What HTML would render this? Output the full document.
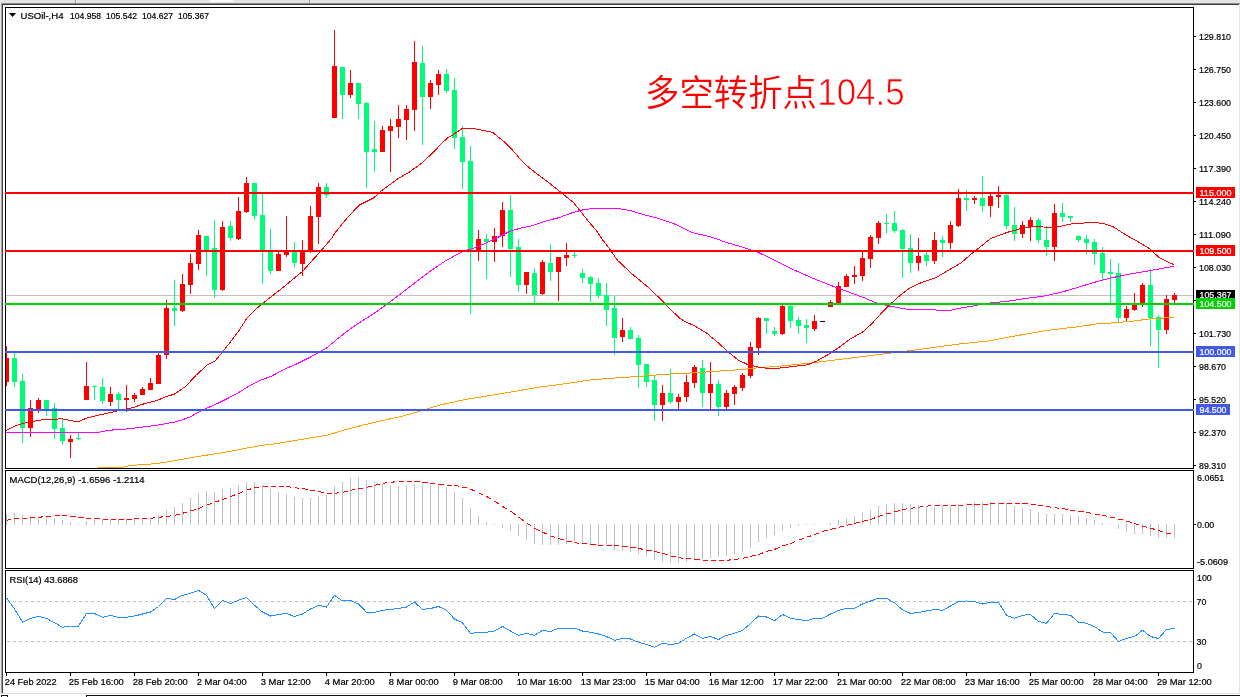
<!DOCTYPE html>
<html lang="zh"><head><meta charset="utf-8"><title>USOil H4</title>
<style>html,body{margin:0;padding:0;background:#fff;overflow:hidden}svg{display:block}</style></head>
<body><svg width="1240" height="697" viewBox="0 0 1240 697" font-family="Liberation Sans, Noto Sans CJK SC, sans-serif" font-size="9.9px">
<rect width="1240" height="697" fill="#fff"/>
<g shape-rendering="crispEdges">
<rect x="0" y="0" width="1240" height="3" fill="#e3e3e3"/>
<rect x="210" y="0" width="23" height="2" fill="#fafafa"/>
<rect x="75" y="0" width="1" height="3" fill="#9a9a9a"/><rect x="309" y="0" width="1" height="3" fill="#9a9a9a"/>
<rect x="0" y="3" width="1240" height="1" fill="#8a8a8a"/>
<rect x="2" y="4" width="1237" height="1" fill="#3c3c3c"/>
<rect x="0" y="3" width="1" height="691" fill="#e8e8e8"/><rect x="1" y="3" width="1" height="690" fill="#a0a0a0"/>
<rect x="2" y="4" width="1" height="689" fill="#444"/>
<rect x="1239" y="4" width="1" height="693" fill="#e3e3e3"/>
<rect x="1" y="693" width="1239" height="1" fill="#dedede"/>
<rect x="0" y="694" width="1240" height="3" fill="#fff"/>
<rect x="86" y="695" width="1154" height="1" fill="#111"/><rect x="86" y="696" width="1" height="1" fill="#111"/>
<rect x="1" y="695" width="7" height="1" fill="#111"/><rect x="1" y="696" width="1" height="1" fill="#111"/><rect x="7" y="696" width="1" height="1" fill="#111"/>
</g>
<defs><clipPath id="cm"><rect x="6" y="8" width="1187" height="460"/></clipPath></defs>
<g clip-path="url(#cm)" shape-rendering="crispEdges">
<rect x="6" y="295" width="1187" height="1" fill="#c0c0c0"/>
<rect x="6" y="346" width="1" height="40" fill="#ff0000"/>
<rect x="4" y="358" width="5" height="24" fill="#ff0000"/>
<rect x="14" y="353" width="1" height="34" fill="#00fb76"/>
<rect x="12" y="358" width="5" height="24" fill="#00fb76"/>
<rect x="22" y="374" width="1" height="69" fill="#00fb76"/>
<rect x="20" y="381" width="5" height="47" fill="#00fb76"/>
<rect x="30" y="400" width="1" height="37" fill="#ff0000"/>
<rect x="28" y="408" width="5" height="20" fill="#ff0000"/>
<rect x="38" y="398" width="1" height="15" fill="#ff0000"/>
<rect x="36" y="400" width="5" height="9" fill="#ff0000"/>
<rect x="46" y="400" width="1" height="16" fill="#00fb76"/>
<rect x="44" y="400" width="5" height="9" fill="#00fb76"/>
<rect x="54" y="403" width="1" height="36" fill="#00fb76"/>
<rect x="52" y="408" width="5" height="21" fill="#00fb76"/>
<rect x="62" y="418" width="1" height="27" fill="#00fb76"/>
<rect x="60" y="428" width="5" height="13" fill="#00fb76"/>
<rect x="70" y="435" width="1" height="23" fill="#ff0000"/>
<rect x="68" y="439" width="5" height="3" fill="#ff0000"/>
<rect x="78" y="432" width="1" height="8" fill="#00fb76"/>
<rect x="76" y="438" width="5" height="1" fill="#00fb76"/>
<rect x="86" y="362" width="1" height="38" fill="#ff0000"/>
<rect x="84" y="386" width="5" height="14" fill="#ff0000"/>
<rect x="94" y="385" width="1" height="15" fill="#00fb76"/>
<rect x="92" y="386" width="5" height="1" fill="#00fb76"/>
<rect x="102" y="378" width="1" height="26" fill="#00fb76"/>
<rect x="100" y="387" width="5" height="14" fill="#00fb76"/>
<rect x="110" y="387" width="1" height="19" fill="#ff0000"/>
<rect x="108" y="394" width="5" height="8" fill="#ff0000"/>
<rect x="118" y="392" width="1" height="17" fill="#00fb76"/>
<rect x="116" y="394" width="5" height="6" fill="#00fb76"/>
<rect x="126" y="385" width="1" height="27" fill="#ff0000"/>
<rect x="124" y="398" width="5" height="2" fill="#ff0000"/>
<rect x="134" y="393" width="1" height="9" fill="#ff0000"/>
<rect x="132" y="395" width="5" height="4" fill="#ff0000"/>
<rect x="142" y="387" width="1" height="8" fill="#ff0000"/>
<rect x="140" y="389" width="5" height="6" fill="#ff0000"/>
<rect x="150" y="378" width="1" height="12" fill="#ff0000"/>
<rect x="148" y="383" width="5" height="7" fill="#ff0000"/>
<rect x="158" y="352" width="1" height="32" fill="#ff0000"/>
<rect x="156" y="355" width="5" height="29" fill="#ff0000"/>
<rect x="166" y="300" width="1" height="59" fill="#ff0000"/>
<rect x="164" y="308" width="5" height="47" fill="#ff0000"/>
<rect x="174" y="280" width="1" height="46" fill="#00fb76"/>
<rect x="172" y="308" width="5" height="3" fill="#00fb76"/>
<rect x="182" y="274" width="1" height="38" fill="#ff0000"/>
<rect x="180" y="284" width="5" height="27" fill="#ff0000"/>
<rect x="190" y="254" width="1" height="40" fill="#ff0000"/>
<rect x="188" y="263" width="5" height="22" fill="#ff0000"/>
<rect x="198" y="230" width="1" height="40" fill="#ff0000"/>
<rect x="196" y="235" width="5" height="29" fill="#ff0000"/>
<rect x="206" y="236" width="1" height="40" fill="#00fb76"/>
<rect x="204" y="236" width="5" height="14" fill="#00fb76"/>
<rect x="214" y="220" width="1" height="78" fill="#00fb76"/>
<rect x="212" y="248" width="5" height="42" fill="#00fb76"/>
<rect x="222" y="221" width="1" height="70" fill="#ff0000"/>
<rect x="220" y="227" width="5" height="63" fill="#ff0000"/>
<rect x="230" y="221" width="1" height="20" fill="#00fb76"/>
<rect x="228" y="226" width="5" height="12" fill="#00fb76"/>
<rect x="238" y="197" width="1" height="43" fill="#ff0000"/>
<rect x="236" y="211" width="5" height="28" fill="#ff0000"/>
<rect x="246" y="177" width="1" height="36" fill="#ff0000"/>
<rect x="244" y="183" width="5" height="29" fill="#ff0000"/>
<rect x="254" y="183" width="1" height="37" fill="#00fb76"/>
<rect x="252" y="183" width="5" height="33" fill="#00fb76"/>
<rect x="262" y="194" width="1" height="90" fill="#00fb76"/>
<rect x="260" y="215" width="5" height="36" fill="#00fb76"/>
<rect x="270" y="229" width="1" height="45" fill="#00fb76"/>
<rect x="268" y="252" width="5" height="19" fill="#00fb76"/>
<rect x="278" y="252" width="1" height="19" fill="#ff0000"/>
<rect x="276" y="254" width="5" height="17" fill="#ff0000"/>
<rect x="286" y="216" width="1" height="41" fill="#ff0000"/>
<rect x="284" y="252" width="5" height="3" fill="#ff0000"/>
<rect x="294" y="242" width="1" height="26" fill="#00fb76"/>
<rect x="292" y="252" width="5" height="11" fill="#00fb76"/>
<rect x="302" y="240" width="1" height="36" fill="#ff0000"/>
<rect x="300" y="252" width="5" height="12" fill="#ff0000"/>
<rect x="310" y="206" width="1" height="47" fill="#ff0000"/>
<rect x="308" y="216" width="5" height="36" fill="#ff0000"/>
<rect x="318" y="183" width="1" height="61" fill="#ff0000"/>
<rect x="316" y="187" width="5" height="30" fill="#ff0000"/>
<rect x="326" y="183" width="1" height="15" fill="#00fb76"/>
<rect x="324" y="187" width="5" height="8" fill="#00fb76"/>
<rect x="334" y="30" width="1" height="88" fill="#ff0000"/>
<rect x="332" y="66" width="5" height="52" fill="#ff0000"/>
<rect x="342" y="67" width="1" height="52" fill="#00fb76"/>
<rect x="340" y="67" width="5" height="28" fill="#00fb76"/>
<rect x="350" y="70" width="1" height="28" fill="#ff0000"/>
<rect x="348" y="83" width="5" height="12" fill="#ff0000"/>
<rect x="358" y="83" width="1" height="36" fill="#00fb76"/>
<rect x="356" y="83" width="5" height="21" fill="#00fb76"/>
<rect x="366" y="102" width="1" height="86" fill="#00fb76"/>
<rect x="364" y="103" width="5" height="49" fill="#00fb76"/>
<rect x="374" y="121" width="1" height="51" fill="#00fb76"/>
<rect x="372" y="149" width="5" height="3" fill="#00fb76"/>
<rect x="382" y="126" width="1" height="26" fill="#ff0000"/>
<rect x="380" y="130" width="5" height="22" fill="#ff0000"/>
<rect x="390" y="119" width="1" height="53" fill="#ff0000"/>
<rect x="388" y="126" width="5" height="5" fill="#ff0000"/>
<rect x="398" y="105" width="1" height="33" fill="#ff0000"/>
<rect x="396" y="119" width="5" height="8" fill="#ff0000"/>
<rect x="406" y="105" width="1" height="35" fill="#ff0000"/>
<rect x="404" y="109" width="5" height="11" fill="#ff0000"/>
<rect x="414" y="41" width="1" height="90" fill="#ff0000"/>
<rect x="412" y="62" width="5" height="48" fill="#ff0000"/>
<rect x="422" y="46" width="1" height="99" fill="#00fb76"/>
<rect x="420" y="63" width="5" height="34" fill="#00fb76"/>
<rect x="430" y="80" width="1" height="29" fill="#ff0000"/>
<rect x="428" y="83" width="5" height="14" fill="#ff0000"/>
<rect x="438" y="70" width="1" height="25" fill="#ff0000"/>
<rect x="436" y="74" width="5" height="11" fill="#ff0000"/>
<rect x="446" y="69" width="1" height="24" fill="#00fb76"/>
<rect x="444" y="74" width="5" height="17" fill="#00fb76"/>
<rect x="454" y="78" width="1" height="71" fill="#00fb76"/>
<rect x="452" y="90" width="5" height="48" fill="#00fb76"/>
<rect x="462" y="126" width="1" height="63" fill="#00fb76"/>
<rect x="460" y="137" width="5" height="25" fill="#00fb76"/>
<rect x="470" y="146" width="1" height="168" fill="#00fb76"/>
<rect x="468" y="161" width="5" height="89" fill="#00fb76"/>
<rect x="478" y="230" width="1" height="31" fill="#ff0000"/>
<rect x="476" y="239" width="5" height="12" fill="#ff0000"/>
<rect x="486" y="234" width="1" height="45" fill="#00fb76"/>
<rect x="484" y="239" width="5" height="3" fill="#00fb76"/>
<rect x="494" y="228" width="1" height="34" fill="#ff0000"/>
<rect x="492" y="236" width="5" height="6" fill="#ff0000"/>
<rect x="502" y="202" width="1" height="45" fill="#ff0000"/>
<rect x="500" y="210" width="5" height="26" fill="#ff0000"/>
<rect x="510" y="195" width="1" height="82" fill="#00fb76"/>
<rect x="508" y="210" width="5" height="39" fill="#00fb76"/>
<rect x="518" y="239" width="1" height="53" fill="#00fb76"/>
<rect x="516" y="247" width="5" height="38" fill="#00fb76"/>
<rect x="526" y="272" width="1" height="22" fill="#ff0000"/>
<rect x="524" y="272" width="5" height="13" fill="#ff0000"/>
<rect x="534" y="268" width="1" height="35" fill="#00fb76"/>
<rect x="532" y="273" width="5" height="22" fill="#00fb76"/>
<rect x="542" y="260" width="1" height="35" fill="#ff0000"/>
<rect x="540" y="262" width="5" height="32" fill="#ff0000"/>
<rect x="550" y="244" width="1" height="37" fill="#00fb76"/>
<rect x="548" y="263" width="5" height="9" fill="#00fb76"/>
<rect x="558" y="257" width="1" height="44" fill="#ff0000"/>
<rect x="556" y="257" width="5" height="15" fill="#ff0000"/>
<rect x="566" y="243" width="1" height="23" fill="#ff0000"/>
<rect x="564" y="255" width="5" height="3" fill="#ff0000"/>
<rect x="574" y="252" width="1" height="6" fill="#00fb76"/>
<rect x="572" y="255" width="5" height="1" fill="#00fb76"/>
<rect x="582" y="269" width="1" height="14" fill="#00fb76"/>
<rect x="580" y="273" width="5" height="5" fill="#00fb76"/>
<rect x="590" y="276" width="1" height="26" fill="#00fb76"/>
<rect x="588" y="277" width="5" height="7" fill="#00fb76"/>
<rect x="598" y="278" width="1" height="20" fill="#00fb76"/>
<rect x="596" y="283" width="5" height="13" fill="#00fb76"/>
<rect x="606" y="283" width="1" height="43" fill="#00fb76"/>
<rect x="604" y="295" width="5" height="15" fill="#00fb76"/>
<rect x="614" y="296" width="1" height="59" fill="#00fb76"/>
<rect x="612" y="308" width="5" height="30" fill="#00fb76"/>
<rect x="622" y="318" width="1" height="24" fill="#ff0000"/>
<rect x="620" y="330" width="5" height="7" fill="#ff0000"/>
<rect x="630" y="327" width="1" height="12" fill="#00fb76"/>
<rect x="628" y="330" width="5" height="9" fill="#00fb76"/>
<rect x="638" y="335" width="1" height="53" fill="#00fb76"/>
<rect x="636" y="338" width="5" height="27" fill="#00fb76"/>
<rect x="646" y="364" width="1" height="23" fill="#00fb76"/>
<rect x="644" y="364" width="5" height="18" fill="#00fb76"/>
<rect x="654" y="376" width="1" height="45" fill="#00fb76"/>
<rect x="652" y="380" width="5" height="25" fill="#00fb76"/>
<rect x="662" y="385" width="1" height="36" fill="#ff0000"/>
<rect x="660" y="393" width="5" height="12" fill="#ff0000"/>
<rect x="670" y="369" width="1" height="35" fill="#00fb76"/>
<rect x="668" y="393" width="5" height="9" fill="#00fb76"/>
<rect x="678" y="394" width="1" height="15" fill="#ff0000"/>
<rect x="676" y="397" width="5" height="5" fill="#ff0000"/>
<rect x="686" y="375" width="1" height="27" fill="#ff0000"/>
<rect x="684" y="382" width="5" height="15" fill="#ff0000"/>
<rect x="694" y="365" width="1" height="23" fill="#ff0000"/>
<rect x="692" y="367" width="5" height="16" fill="#ff0000"/>
<rect x="702" y="360" width="1" height="47" fill="#00fb76"/>
<rect x="700" y="368" width="5" height="25" fill="#00fb76"/>
<rect x="710" y="362" width="1" height="47" fill="#ff0000"/>
<rect x="708" y="384" width="5" height="9" fill="#ff0000"/>
<rect x="718" y="380" width="1" height="36" fill="#00fb76"/>
<rect x="716" y="384" width="5" height="23" fill="#00fb76"/>
<rect x="726" y="390" width="1" height="19" fill="#ff0000"/>
<rect x="724" y="393" width="5" height="14" fill="#ff0000"/>
<rect x="734" y="385" width="1" height="20" fill="#ff0000"/>
<rect x="732" y="387" width="5" height="7" fill="#ff0000"/>
<rect x="742" y="373" width="1" height="18" fill="#ff0000"/>
<rect x="740" y="375" width="5" height="13" fill="#ff0000"/>
<rect x="750" y="342" width="1" height="36" fill="#ff0000"/>
<rect x="748" y="347" width="5" height="29" fill="#ff0000"/>
<rect x="758" y="317" width="1" height="38" fill="#ff0000"/>
<rect x="756" y="318" width="5" height="30" fill="#ff0000"/>
<rect x="766" y="318" width="1" height="16" fill="#00fb76"/>
<rect x="764" y="318" width="5" height="3" fill="#00fb76"/>
<rect x="774" y="327" width="1" height="9" fill="#00fb76"/>
<rect x="772" y="331" width="5" height="3" fill="#00fb76"/>
<rect x="782" y="304" width="1" height="31" fill="#ff0000"/>
<rect x="780" y="306" width="5" height="28" fill="#ff0000"/>
<rect x="790" y="304" width="1" height="24" fill="#00fb76"/>
<rect x="788" y="306" width="5" height="15" fill="#00fb76"/>
<rect x="798" y="317" width="1" height="17" fill="#00fb76"/>
<rect x="796" y="320" width="5" height="6" fill="#00fb76"/>
<rect x="806" y="319" width="1" height="24" fill="#00fb76"/>
<rect x="804" y="325" width="5" height="3" fill="#00fb76"/>
<rect x="814" y="315" width="1" height="16" fill="#ff0000"/>
<rect x="812" y="321" width="5" height="8" fill="#ff0000"/>
<rect x="822" y="321" width="1" height="1" fill="#000"/>
<rect x="820" y="321" width="5" height="1" fill="#000"/>
<rect x="830" y="300" width="1" height="7" fill="#ff0000"/>
<rect x="828" y="302" width="5" height="5" fill="#ff0000"/>
<rect x="838" y="282" width="1" height="21" fill="#ff0000"/>
<rect x="836" y="286" width="5" height="17" fill="#ff0000"/>
<rect x="846" y="274" width="1" height="13" fill="#ff0000"/>
<rect x="844" y="276" width="5" height="11" fill="#ff0000"/>
<rect x="854" y="266" width="1" height="18" fill="#ff0000"/>
<rect x="852" y="275" width="5" height="2" fill="#ff0000"/>
<rect x="862" y="252" width="1" height="29" fill="#ff0000"/>
<rect x="860" y="258" width="5" height="18" fill="#ff0000"/>
<rect x="870" y="235" width="1" height="33" fill="#ff0000"/>
<rect x="868" y="237" width="5" height="22" fill="#ff0000"/>
<rect x="878" y="221" width="1" height="23" fill="#ff0000"/>
<rect x="876" y="223" width="5" height="15" fill="#ff0000"/>
<rect x="886" y="214" width="1" height="19" fill="#00fb76"/>
<rect x="884" y="223" width="5" height="1" fill="#00fb76"/>
<rect x="894" y="211" width="1" height="22" fill="#00fb76"/>
<rect x="892" y="223" width="5" height="8" fill="#00fb76"/>
<rect x="902" y="229" width="1" height="49" fill="#00fb76"/>
<rect x="900" y="230" width="5" height="19" fill="#00fb76"/>
<rect x="910" y="234" width="1" height="39" fill="#00fb76"/>
<rect x="908" y="248" width="5" height="15" fill="#00fb76"/>
<rect x="918" y="238" width="1" height="33" fill="#ff0000"/>
<rect x="916" y="256" width="5" height="7" fill="#ff0000"/>
<rect x="926" y="252" width="1" height="14" fill="#00fb76"/>
<rect x="924" y="255" width="5" height="6" fill="#00fb76"/>
<rect x="934" y="232" width="1" height="32" fill="#ff0000"/>
<rect x="932" y="240" width="5" height="21" fill="#ff0000"/>
<rect x="942" y="236" width="1" height="21" fill="#00fb76"/>
<rect x="940" y="240" width="5" height="3" fill="#00fb76"/>
<rect x="950" y="221" width="1" height="28" fill="#ff0000"/>
<rect x="948" y="225" width="5" height="18" fill="#ff0000"/>
<rect x="958" y="189" width="1" height="38" fill="#ff0000"/>
<rect x="956" y="198" width="5" height="28" fill="#ff0000"/>
<rect x="966" y="190" width="1" height="21" fill="#00fb76"/>
<rect x="964" y="198" width="5" height="2" fill="#00fb76"/>
<rect x="974" y="196" width="1" height="8" fill="#ff0000"/>
<rect x="972" y="198" width="5" height="2" fill="#ff0000"/>
<rect x="982" y="176" width="1" height="36" fill="#00fb76"/>
<rect x="980" y="198" width="5" height="8" fill="#00fb76"/>
<rect x="990" y="194" width="1" height="23" fill="#ff0000"/>
<rect x="988" y="196" width="5" height="10" fill="#ff0000"/>
<rect x="998" y="186" width="1" height="22" fill="#ff0000"/>
<rect x="996" y="195" width="5" height="2" fill="#ff0000"/>
<rect x="1006" y="194" width="1" height="35" fill="#00fb76"/>
<rect x="1004" y="195" width="5" height="31" fill="#00fb76"/>
<rect x="1014" y="207" width="1" height="34" fill="#00fb76"/>
<rect x="1012" y="225" width="5" height="9" fill="#00fb76"/>
<rect x="1022" y="221" width="1" height="17" fill="#ff0000"/>
<rect x="1020" y="225" width="5" height="9" fill="#ff0000"/>
<rect x="1030" y="217" width="1" height="24" fill="#ff0000"/>
<rect x="1028" y="220" width="5" height="7" fill="#ff0000"/>
<rect x="1038" y="218" width="1" height="25" fill="#00fb76"/>
<rect x="1036" y="220" width="5" height="20" fill="#00fb76"/>
<rect x="1046" y="226" width="1" height="30" fill="#00fb76"/>
<rect x="1044" y="240" width="5" height="7" fill="#00fb76"/>
<rect x="1054" y="204" width="1" height="57" fill="#ff0000"/>
<rect x="1052" y="213" width="5" height="34" fill="#ff0000"/>
<rect x="1062" y="203" width="1" height="19" fill="#00fb76"/>
<rect x="1060" y="213" width="5" height="4" fill="#00fb76"/>
<rect x="1070" y="216" width="1" height="6" fill="#00fb76"/>
<rect x="1068" y="216" width="5" height="2" fill="#00fb76"/>
<rect x="1078" y="235" width="1" height="7" fill="#00fb76"/>
<rect x="1076" y="236" width="5" height="4" fill="#00fb76"/>
<rect x="1086" y="235" width="1" height="19" fill="#00fb76"/>
<rect x="1084" y="239" width="5" height="4" fill="#00fb76"/>
<rect x="1094" y="239" width="1" height="26" fill="#00fb76"/>
<rect x="1092" y="242" width="5" height="12" fill="#00fb76"/>
<rect x="1102" y="247" width="1" height="33" fill="#00fb76"/>
<rect x="1100" y="253" width="5" height="20" fill="#00fb76"/>
<rect x="1110" y="259" width="1" height="45" fill="#00fb76"/>
<rect x="1108" y="272" width="5" height="2" fill="#00fb76"/>
<rect x="1118" y="263" width="1" height="59" fill="#00fb76"/>
<rect x="1116" y="273" width="5" height="45" fill="#00fb76"/>
<rect x="1126" y="306" width="1" height="16" fill="#ff0000"/>
<rect x="1124" y="309" width="5" height="9" fill="#ff0000"/>
<rect x="1134" y="293" width="1" height="18" fill="#ff0000"/>
<rect x="1132" y="305" width="5" height="5" fill="#ff0000"/>
<rect x="1142" y="283" width="1" height="24" fill="#ff0000"/>
<rect x="1140" y="285" width="5" height="18" fill="#ff0000"/>
<rect x="1150" y="269" width="1" height="77" fill="#00fb76"/>
<rect x="1148" y="285" width="5" height="33" fill="#00fb76"/>
<rect x="1158" y="315" width="1" height="53" fill="#00fb76"/>
<rect x="1156" y="317" width="5" height="13" fill="#00fb76"/>
<rect x="1166" y="295" width="1" height="39" fill="#ff0000"/>
<rect x="1164" y="299" width="5" height="31" fill="#ff0000"/>
<rect x="1174" y="293" width="1" height="10" fill="#ff0000"/>
<rect x="1172" y="295" width="5" height="5" fill="#ff0000"/>
</g>
<g clip-path="url(#cm)" fill="none" stroke-width="1" stroke-linejoin="round" shape-rendering="crispEdges">
<polyline points="98.0,467.5 122.0,467.5 130.0,465.5 154.0,463.8 170.0,461.6 186.0,458.6 202.0,455.8 218.0,453.5 234.5,450.6 240.0,449.3 259.4,445.8 278.7,443.2 298.0,440.0 317.4,436.8 327.7,435.1 343.2,430.3 362.6,425.2 381.9,420.6 400.0,416.8 415.0,412.5 440.0,405.0 465.0,399.5 490.0,395.5 515.0,391.3 540.0,387.0 565.0,383.8 590.0,380.0 615.0,378.0 640.0,376.3 665.0,374.3 700.0,372.5 711.2,371.6 737.9,369.8 755.7,368.0 775.6,366.5 811.2,363.0 846.8,358.5 882.3,354.1 917.9,349.6 960.0,343.9 990.0,340.8 1007.8,337.3 1025.6,334.1 1043.4,331.0 1061.2,328.7 1079.0,326.6 1096.8,323.9 1114.6,322.8 1132.3,321.2 1150.1,318.9 1174.2,317.3" stroke="#ffa000"/>
<polyline points="6.0,432.0 66.0,432.0 70.0,432.5 97.0,432.5 110.0,430.2 126.0,429.0 142.0,427.2 158.0,425.0 166.0,423.6 174.0,422.2 182.0,420.0 190.0,416.9 198.0,412.6 206.0,408.5 214.0,405.0 220.0,402.3 236.3,394.0 249.6,385.7 260.3,380.3 271.0,376.4 285.2,368.8 295.9,364.3 310.1,357.2 326.2,348.3 336.8,339.4 349.3,329.6 358.3,323.3 373.4,313.9 385.8,305.0 400.1,294.3 416.1,281.9 430.3,271.2 444.6,261.4 462.3,251.6 476.6,247.2 494.4,239.1 510.4,231.1 520.0,228.3 532.5,225.6 544.9,221.2 559.1,217.6 573.4,212.3 584.1,209.6 596.5,208.2 616.1,208.2 630.3,210.5 644.6,214.9 658.8,218.5 676.6,224.7 692.6,232.7 712.2,237.2 726.4,242.5 740.0,246.4 756.9,251.8 775.6,260.7 793.4,269.6 811.2,277.6 829.0,284.7 846.8,291.3 864.6,298.0 875.2,302.5 889.5,306.0 907.3,309.3 935.7,310.0 951.7,310.0 960.0,308.2 990.0,303.0 1007.8,301.2 1025.6,298.5 1043.4,296.2 1061.2,292.3 1079.0,287.0 1096.8,281.6 1114.6,277.2 1132.3,273.6 1150.1,270.6 1174.2,266.2" stroke="#ff00ff"/>
<polyline points="6.0,430.7 14.4,426.3 22.0,423.6 30.0,422.2 38.0,420.4 46.0,419.2 54.0,419.2 62.0,418.8 70.0,420.4 78.0,421.9 86.0,418.3 94.0,416.2 102.0,414.4 110.0,412.6 118.0,410.8 126.0,409.0 134.0,407.3 142.0,404.4 150.0,402.3 158.0,400.1 166.0,396.6 174.0,394.3 185.6,386.5 196.3,375.0 207.0,365.2 215.0,361.1 221.2,353.6 228.3,344.7 239.0,330.5 247.0,318.0 256.8,308.3 265.7,301.1 274.6,294.0 285.2,285.7 302.7,271.2 320.8,251.0 331.5,238.5 335.1,232.8 346.7,218.5 359.1,205.2 373.4,198.1 382.3,190.1 398.3,178.5 409.0,172.3 421.4,163.4 433.9,151.8 441.0,144.0 448.1,137.6 451.7,135.7 462.3,128.4 471.2,128.0 480.1,129.8 492.6,132.4 503.3,141.1 506.0,143.3 515.7,153.6 520.0,158.9 528.2,166.9 536.0,173.1 546.7,181.1 559.1,190.9 573.4,202.5 580.5,211.4 591.2,224.7 596.1,230.0 601.9,239.0 606.8,245.1 610.7,250.5 617.4,260.2 631.7,273.6 647.7,286.9 663.7,302.1 667.3,306.5 679.7,318.1 683.7,320.9 693.5,325.3 705.9,332.5 716.6,341.4 727.3,351.1 737.9,360.0 746.8,364.1 755.7,366.6 764.6,368.0 772.0,368.9 793.4,366.5 807.6,364.8 816.5,361.2 829.0,354.1 839.6,347.0 850.3,339.0 862.8,331.9 871.7,323.8 882.3,312.3 891.2,303.4 900.1,295.4 910.8,287.4 919.6,283.3 935.7,277.8 948.1,270.4 960.6,263.3 971.2,254.0 980.1,246.9 990.8,238.5 998.9,235.4 1007.8,232.2 1022.0,228.3 1034.5,226.5 1050.5,227.4 1061.2,226.1 1073.6,223.5 1086.1,222.9 1095.0,222.4 1103.9,223.8 1112.8,226.5 1125.2,234.5 1137.7,241.6 1148.4,247.8 1159.0,257.3 1167.9,262.1 1174.2,264.7" stroke="#ff0000"/>
</g>
<g shape-rendering="crispEdges">
<rect x="5" y="7" width="1189" height="1" fill="#000"/>
<rect x="5" y="7" width="1" height="666" fill="#000"/>
<rect x="1193" y="7" width="1" height="666" fill="#000"/>
<rect x="5" y="468" width="1189" height="1" fill="#000"/>
<rect x="5" y="470" width="1189" height="1" fill="#000"/>
<rect x="5" y="568" width="1189" height="1" fill="#000"/>
<rect x="5" y="570" width="1189" height="1" fill="#000"/>
<rect x="5" y="672" width="1189" height="1" fill="#000"/>
<rect x="5" y="469" width="1189" height="1" fill="#fff"/><rect x="5" y="569" width="1189" height="1" fill="#fff"/>
<rect x="5" y="192" width="1189" height="2" fill="#ff0000"/>
<rect x="5" y="250" width="1189" height="2" fill="#ff0000"/>
<rect x="5" y="303" width="1189" height="2" fill="#00d000"/>
<rect x="5" y="351" width="1189" height="2" fill="#4159e6"/>
<rect x="5" y="409" width="1189" height="2" fill="#4159e6"/>
<rect x="1194" y="36" width="2" height="1" fill="#000"/>
<rect x="1194" y="69" width="2" height="1" fill="#000"/>
<rect x="1194" y="102" width="2" height="1" fill="#000"/>
<rect x="1194" y="135" width="2" height="1" fill="#000"/>
<rect x="1194" y="168" width="2" height="1" fill="#000"/>
<rect x="1194" y="201" width="2" height="1" fill="#000"/>
<rect x="1194" y="234" width="2" height="1" fill="#000"/>
<rect x="1194" y="267" width="2" height="1" fill="#000"/>
<rect x="1194" y="300" width="2" height="1" fill="#000"/>
<rect x="1194" y="333" width="2" height="1" fill="#000"/>
<rect x="1194" y="366" width="2" height="1" fill="#000"/>
<rect x="1194" y="399" width="2" height="1" fill="#000"/>
<rect x="1194" y="432" width="2" height="1" fill="#000"/>
<rect x="1194" y="465" width="2" height="1" fill="#000"/>
<rect x="1194" y="524" width="2" height="1" fill="#000"/>
<rect x="6" y="673" width="1" height="3" fill="#000"/>
<rect x="70" y="673" width="1" height="3" fill="#000"/>
<rect x="134" y="673" width="1" height="3" fill="#000"/>
<rect x="198" y="673" width="1" height="3" fill="#000"/>
<rect x="262" y="673" width="1" height="3" fill="#000"/>
<rect x="326" y="673" width="1" height="3" fill="#000"/>
<rect x="390" y="673" width="1" height="3" fill="#000"/>
<rect x="454" y="673" width="1" height="3" fill="#000"/>
<rect x="518" y="673" width="1" height="3" fill="#000"/>
<rect x="582" y="673" width="1" height="3" fill="#000"/>
<rect x="646" y="673" width="1" height="3" fill="#000"/>
<rect x="710" y="673" width="1" height="3" fill="#000"/>
<rect x="774" y="673" width="1" height="3" fill="#000"/>
<rect x="838" y="673" width="1" height="3" fill="#000"/>
<rect x="902" y="673" width="1" height="3" fill="#000"/>
<rect x="966" y="673" width="1" height="3" fill="#000"/>
<rect x="1030" y="673" width="1" height="3" fill="#000"/>
<rect x="1094" y="673" width="1" height="3" fill="#000"/>
<rect x="1158" y="673" width="1" height="3" fill="#000"/>
</g>
<text x="1199" y="39.6" fill="#000" stroke="#000" stroke-width="0.22" textLength="32" lengthAdjust="spacingAndGlyphs">129.810</text>
<text x="1199" y="72.6" fill="#000" stroke="#000" stroke-width="0.22" textLength="32" lengthAdjust="spacingAndGlyphs">126.750</text>
<text x="1199" y="105.6" fill="#000" stroke="#000" stroke-width="0.22" textLength="32" lengthAdjust="spacingAndGlyphs">123.600</text>
<text x="1199" y="138.6" fill="#000" stroke="#000" stroke-width="0.22" textLength="32" lengthAdjust="spacingAndGlyphs">120.450</text>
<text x="1199" y="171.6" fill="#000" stroke="#000" stroke-width="0.22" textLength="32" lengthAdjust="spacingAndGlyphs">117.390</text>
<text x="1199" y="204.6" fill="#000" stroke="#000" stroke-width="0.22" textLength="32" lengthAdjust="spacingAndGlyphs">114.240</text>
<text x="1199" y="237.6" fill="#000" stroke="#000" stroke-width="0.22" textLength="32" lengthAdjust="spacingAndGlyphs">111.090</text>
<text x="1199" y="270.6" fill="#000" stroke="#000" stroke-width="0.22" textLength="32" lengthAdjust="spacingAndGlyphs">108.030</text>
<text x="1199" y="336.6" fill="#000" stroke="#000" stroke-width="0.22" textLength="32" lengthAdjust="spacingAndGlyphs">101.730</text>
<text x="1199" y="369.6" fill="#000" stroke="#000" stroke-width="0.22" textLength="27" lengthAdjust="spacingAndGlyphs">98.670</text>
<text x="1199" y="402.6" fill="#000" stroke="#000" stroke-width="0.22" textLength="27" lengthAdjust="spacingAndGlyphs">95.520</text>
<text x="1199" y="435.6" fill="#000" stroke="#000" stroke-width="0.22" textLength="27" lengthAdjust="spacingAndGlyphs">92.370</text>
<text x="1199" y="468.6" fill="#000" stroke="#000" stroke-width="0.22" textLength="27" lengthAdjust="spacingAndGlyphs">89.310</text>
<rect x="1196" y="290" width="39" height="11" fill="#000" shape-rendering="crispEdges"/>
<text x="1199.5" y="297.6" fill="#fff" stroke="#fff" stroke-width="0.22" font-size="9.6px" textLength="32" lengthAdjust="spacingAndGlyphs">105.367</text>
<rect x="1196" y="187" width="39" height="11" fill="#ff0000" shape-rendering="crispEdges"/>
<text x="1199.5" y="195.6" fill="#fff" stroke="#fff" stroke-width="0.22" font-size="9.6px" textLength="32" lengthAdjust="spacingAndGlyphs">115.000</text>
<rect x="1196" y="245" width="39" height="11" fill="#ff0000" shape-rendering="crispEdges"/>
<text x="1199.5" y="253.6" fill="#fff" stroke="#fff" stroke-width="0.22" font-size="9.6px" textLength="32" lengthAdjust="spacingAndGlyphs">109.500</text>
<rect x="1196" y="298" width="39" height="11" fill="#00d000" shape-rendering="crispEdges"/>
<text x="1199.5" y="306.6" fill="#fff" stroke="#fff" stroke-width="0.22" font-size="9.6px" textLength="32" lengthAdjust="spacingAndGlyphs">104.500</text>
<rect x="1196" y="346" width="39" height="11" fill="#4159e6" shape-rendering="crispEdges"/>
<text x="1199.5" y="354.6" fill="#fff" stroke="#fff" stroke-width="0.22" font-size="9.6px" textLength="32" lengthAdjust="spacingAndGlyphs">100.000</text>
<rect x="1196" y="404" width="34" height="11" fill="#4159e6" shape-rendering="crispEdges"/>
<text x="1199.5" y="412.6" fill="#fff" stroke="#fff" stroke-width="0.22" font-size="9.6px" textLength="27" lengthAdjust="spacingAndGlyphs">94.500</text>
<g shape-rendering="crispEdges">
<rect x="6" y="514" width="1" height="11" fill="#c0c0c0"/>
<rect x="14" y="513" width="1" height="12" fill="#c0c0c0"/>
<rect x="22" y="515" width="1" height="10" fill="#c0c0c0"/>
<rect x="30" y="516" width="1" height="9" fill="#c0c0c0"/>
<rect x="38" y="516" width="1" height="9" fill="#c0c0c0"/>
<rect x="46" y="517" width="1" height="8" fill="#c0c0c0"/>
<rect x="54" y="518" width="1" height="7" fill="#c0c0c0"/>
<rect x="62" y="520" width="1" height="5" fill="#c0c0c0"/>
<rect x="70" y="522" width="1" height="3" fill="#c0c0c0"/>
<rect x="78" y="524" width="1" height="1" fill="#c0c0c0"/>
<rect x="86" y="521" width="1" height="4" fill="#c0c0c0"/>
<rect x="94" y="520" width="1" height="5" fill="#c0c0c0"/>
<rect x="102" y="520" width="1" height="5" fill="#c0c0c0"/>
<rect x="110" y="520" width="1" height="5" fill="#c0c0c0"/>
<rect x="118" y="519" width="1" height="6" fill="#c0c0c0"/>
<rect x="126" y="519" width="1" height="6" fill="#c0c0c0"/>
<rect x="134" y="519" width="1" height="6" fill="#c0c0c0"/>
<rect x="142" y="518" width="1" height="7" fill="#c0c0c0"/>
<rect x="150" y="517" width="1" height="8" fill="#c0c0c0"/>
<rect x="158" y="515" width="1" height="10" fill="#c0c0c0"/>
<rect x="166" y="510" width="1" height="15" fill="#c0c0c0"/>
<rect x="174" y="507" width="1" height="18" fill="#c0c0c0"/>
<rect x="182" y="503" width="1" height="22" fill="#c0c0c0"/>
<rect x="190" y="498" width="1" height="27" fill="#c0c0c0"/>
<rect x="198" y="493" width="1" height="32" fill="#c0c0c0"/>
<rect x="206" y="491" width="1" height="34" fill="#c0c0c0"/>
<rect x="214" y="492" width="1" height="33" fill="#c0c0c0"/>
<rect x="222" y="489" width="1" height="36" fill="#c0c0c0"/>
<rect x="230" y="488" width="1" height="37" fill="#c0c0c0"/>
<rect x="238" y="485" width="1" height="40" fill="#c0c0c0"/>
<rect x="246" y="482" width="1" height="43" fill="#c0c0c0"/>
<rect x="254" y="482" width="1" height="43" fill="#c0c0c0"/>
<rect x="262" y="485" width="1" height="40" fill="#c0c0c0"/>
<rect x="270" y="489" width="1" height="36" fill="#c0c0c0"/>
<rect x="278" y="492" width="1" height="33" fill="#c0c0c0"/>
<rect x="286" y="494" width="1" height="31" fill="#c0c0c0"/>
<rect x="294" y="497" width="1" height="28" fill="#c0c0c0"/>
<rect x="302" y="498" width="1" height="27" fill="#c0c0c0"/>
<rect x="310" y="498" width="1" height="27" fill="#c0c0c0"/>
<rect x="318" y="496" width="1" height="29" fill="#c0c0c0"/>
<rect x="326" y="495" width="1" height="30" fill="#c0c0c0"/>
<rect x="334" y="486" width="1" height="39" fill="#c0c0c0"/>
<rect x="342" y="482" width="1" height="43" fill="#c0c0c0"/>
<rect x="350" y="478" width="1" height="47" fill="#c0c0c0"/>
<rect x="358" y="477" width="1" height="48" fill="#c0c0c0"/>
<rect x="366" y="480" width="1" height="45" fill="#c0c0c0"/>
<rect x="374" y="482" width="1" height="43" fill="#c0c0c0"/>
<rect x="382" y="484" width="1" height="41" fill="#c0c0c0"/>
<rect x="390" y="485" width="1" height="40" fill="#c0c0c0"/>
<rect x="398" y="486" width="1" height="39" fill="#c0c0c0"/>
<rect x="406" y="486" width="1" height="39" fill="#c0c0c0"/>
<rect x="414" y="484" width="1" height="41" fill="#c0c0c0"/>
<rect x="422" y="485" width="1" height="40" fill="#c0c0c0"/>
<rect x="430" y="485" width="1" height="40" fill="#c0c0c0"/>
<rect x="438" y="486" width="1" height="39" fill="#c0c0c0"/>
<rect x="446" y="487" width="1" height="38" fill="#c0c0c0"/>
<rect x="454" y="492" width="1" height="33" fill="#c0c0c0"/>
<rect x="462" y="498" width="1" height="27" fill="#c0c0c0"/>
<rect x="470" y="508" width="1" height="17" fill="#c0c0c0"/>
<rect x="478" y="516" width="1" height="9" fill="#c0c0c0"/>
<rect x="486" y="522" width="1" height="3" fill="#c0c0c0"/>
<rect x="494" y="524" width="1" height="1" fill="#c0c0c0"/>
<rect x="502" y="524" width="1" height="4" fill="#c0c0c0"/>
<rect x="510" y="524" width="1" height="7" fill="#c0c0c0"/>
<rect x="518" y="524" width="1" height="12" fill="#c0c0c0"/>
<rect x="526" y="524" width="1" height="16" fill="#c0c0c0"/>
<rect x="534" y="524" width="1" height="20" fill="#c0c0c0"/>
<rect x="542" y="524" width="1" height="21" fill="#c0c0c0"/>
<rect x="550" y="524" width="1" height="21" fill="#c0c0c0"/>
<rect x="558" y="524" width="1" height="21" fill="#c0c0c0"/>
<rect x="566" y="524" width="1" height="20" fill="#c0c0c0"/>
<rect x="574" y="524" width="1" height="19" fill="#c0c0c0"/>
<rect x="582" y="524" width="1" height="19" fill="#c0c0c0"/>
<rect x="590" y="524" width="1" height="20" fill="#c0c0c0"/>
<rect x="598" y="524" width="1" height="21" fill="#c0c0c0"/>
<rect x="606" y="524" width="1" height="22" fill="#c0c0c0"/>
<rect x="614" y="524" width="1" height="26" fill="#c0c0c0"/>
<rect x="622" y="524" width="1" height="27" fill="#c0c0c0"/>
<rect x="630" y="524" width="1" height="28" fill="#c0c0c0"/>
<rect x="638" y="524" width="1" height="30" fill="#c0c0c0"/>
<rect x="646" y="524" width="1" height="33" fill="#c0c0c0"/>
<rect x="654" y="524" width="1" height="36" fill="#c0c0c0"/>
<rect x="662" y="524" width="1" height="38" fill="#c0c0c0"/>
<rect x="670" y="524" width="1" height="39" fill="#c0c0c0"/>
<rect x="678" y="524" width="1" height="39" fill="#c0c0c0"/>
<rect x="686" y="524" width="1" height="38" fill="#c0c0c0"/>
<rect x="694" y="524" width="1" height="36" fill="#c0c0c0"/>
<rect x="702" y="524" width="1" height="35" fill="#c0c0c0"/>
<rect x="710" y="524" width="1" height="34" fill="#c0c0c0"/>
<rect x="718" y="524" width="1" height="33" fill="#c0c0c0"/>
<rect x="726" y="524" width="1" height="32" fill="#c0c0c0"/>
<rect x="734" y="524" width="1" height="30" fill="#c0c0c0"/>
<rect x="742" y="524" width="1" height="28" fill="#c0c0c0"/>
<rect x="750" y="524" width="1" height="24" fill="#c0c0c0"/>
<rect x="758" y="524" width="1" height="18" fill="#c0c0c0"/>
<rect x="766" y="524" width="1" height="14" fill="#c0c0c0"/>
<rect x="774" y="524" width="1" height="11" fill="#c0c0c0"/>
<rect x="782" y="524" width="1" height="7" fill="#c0c0c0"/>
<rect x="790" y="524" width="1" height="4" fill="#c0c0c0"/>
<rect x="798" y="524" width="1" height="2" fill="#c0c0c0"/>
<rect x="806" y="524" width="1" height="1" fill="#c0c0c0"/>
<rect x="814" y="524" width="1" height="1" fill="#c0c0c0"/>
<rect x="830" y="523" width="1" height="2" fill="#c0c0c0"/>
<rect x="838" y="520" width="1" height="5" fill="#c0c0c0"/>
<rect x="846" y="518" width="1" height="7" fill="#c0c0c0"/>
<rect x="854" y="516" width="1" height="9" fill="#c0c0c0"/>
<rect x="862" y="513" width="1" height="12" fill="#c0c0c0"/>
<rect x="870" y="510" width="1" height="15" fill="#c0c0c0"/>
<rect x="878" y="506" width="1" height="19" fill="#c0c0c0"/>
<rect x="886" y="504" width="1" height="21" fill="#c0c0c0"/>
<rect x="894" y="503" width="1" height="22" fill="#c0c0c0"/>
<rect x="902" y="503" width="1" height="22" fill="#c0c0c0"/>
<rect x="910" y="504" width="1" height="21" fill="#c0c0c0"/>
<rect x="918" y="505" width="1" height="20" fill="#c0c0c0"/>
<rect x="926" y="506" width="1" height="19" fill="#c0c0c0"/>
<rect x="934" y="506" width="1" height="19" fill="#c0c0c0"/>
<rect x="942" y="506" width="1" height="19" fill="#c0c0c0"/>
<rect x="950" y="506" width="1" height="19" fill="#c0c0c0"/>
<rect x="958" y="504" width="1" height="21" fill="#c0c0c0"/>
<rect x="966" y="503" width="1" height="22" fill="#c0c0c0"/>
<rect x="974" y="502" width="1" height="23" fill="#c0c0c0"/>
<rect x="982" y="502" width="1" height="23" fill="#c0c0c0"/>
<rect x="990" y="502" width="1" height="23" fill="#c0c0c0"/>
<rect x="998" y="502" width="1" height="23" fill="#c0c0c0"/>
<rect x="1006" y="503" width="1" height="22" fill="#c0c0c0"/>
<rect x="1014" y="506" width="1" height="19" fill="#c0c0c0"/>
<rect x="1022" y="508" width="1" height="17" fill="#c0c0c0"/>
<rect x="1030" y="509" width="1" height="16" fill="#c0c0c0"/>
<rect x="1038" y="512" width="1" height="13" fill="#c0c0c0"/>
<rect x="1046" y="514" width="1" height="11" fill="#c0c0c0"/>
<rect x="1054" y="514" width="1" height="11" fill="#c0c0c0"/>
<rect x="1062" y="514" width="1" height="11" fill="#c0c0c0"/>
<rect x="1070" y="515" width="1" height="10" fill="#c0c0c0"/>
<rect x="1078" y="516" width="1" height="9" fill="#c0c0c0"/>
<rect x="1086" y="518" width="1" height="7" fill="#c0c0c0"/>
<rect x="1094" y="520" width="1" height="5" fill="#c0c0c0"/>
<rect x="1102" y="523" width="1" height="2" fill="#c0c0c0"/>
<rect x="1110" y="524" width="1" height="1" fill="#c0c0c0"/>
<rect x="1118" y="524" width="1" height="5" fill="#c0c0c0"/>
<rect x="1126" y="524" width="1" height="8" fill="#c0c0c0"/>
<rect x="1134" y="524" width="1" height="10" fill="#c0c0c0"/>
<rect x="1142" y="524" width="1" height="10" fill="#c0c0c0"/>
<rect x="1150" y="524" width="1" height="12" fill="#c0c0c0"/>
<rect x="1158" y="524" width="1" height="14" fill="#c0c0c0"/>
<rect x="1166" y="524" width="1" height="14" fill="#c0c0c0"/>
<rect x="1174" y="524" width="1" height="14" fill="#c0c0c0"/>
</g>
<g stroke="#ff0000" stroke-width="1" fill="none" shape-rendering="crispEdges">
<line x1="6.5" y1="520.3" x2="11.5" y2="519.5"/>
<line x1="14.5" y1="519.0" x2="19.5" y2="518.6"/>
<line x1="22.5" y1="518.3" x2="27.5" y2="518.0"/>
<line x1="30.5" y1="517.8" x2="35.5" y2="517.5"/>
<line x1="38.5" y1="517.3" x2="43.5" y2="516.8"/>
<line x1="46.5" y1="516.5" x2="51.5" y2="515.9"/>
<line x1="54.5" y1="515.5" x2="59.5" y2="515.5"/>
<line x1="62.5" y1="515.5" x2="67.5" y2="516.1"/>
<line x1="70.5" y1="516.5" x2="75.5" y2="517.0"/>
<line x1="78.5" y1="517.3" x2="83.5" y2="517.9"/>
<line x1="86.5" y1="518.3" x2="91.5" y2="518.4"/>
<line x1="94.5" y1="518.5" x2="99.5" y2="518.8"/>
<line x1="102.5" y1="519.0" x2="107.5" y2="519.0"/>
<line x1="110.5" y1="519.0" x2="115.5" y2="519.0"/>
<line x1="118.5" y1="519.0" x2="123.5" y2="519.0"/>
<line x1="126.5" y1="519.0" x2="131.5" y2="519.0"/>
<line x1="134.5" y1="519.0" x2="139.5" y2="518.7"/>
<line x1="142.5" y1="518.5" x2="147.5" y2="518.4"/>
<line x1="150.5" y1="518.3" x2="155.5" y2="517.7"/>
<line x1="158.5" y1="517.3" x2="163.5" y2="516.8"/>
<line x1="166.5" y1="516.5" x2="171.5" y2="515.8"/>
<line x1="174.5" y1="515.3" x2="179.5" y2="514.0"/>
<line x1="182.5" y1="513.3" x2="187.5" y2="511.9"/>
<line x1="190.5" y1="511.0" x2="195.5" y2="509.4"/>
<line x1="198.5" y1="508.5" x2="203.5" y2="506.5"/>
<line x1="206.5" y1="505.3" x2="211.5" y2="503.4"/>
<line x1="214.5" y1="502.3" x2="219.5" y2="500.7"/>
<line x1="222.5" y1="499.8" x2="227.5" y2="497.7"/>
<line x1="230.5" y1="496.5" x2="235.5" y2="494.6"/>
<line x1="238.5" y1="493.5" x2="243.5" y2="491.5"/>
<line x1="246.5" y1="490.3" x2="251.5" y2="488.7"/>
<line x1="254.5" y1="487.8" x2="259.5" y2="487.0"/>
<line x1="262.5" y1="486.5" x2="267.5" y2="486.5"/>
<line x1="270.5" y1="486.5" x2="275.5" y2="486.5"/>
<line x1="278.5" y1="486.5" x2="283.5" y2="486.5"/>
<line x1="286.5" y1="486.5" x2="291.5" y2="487.3"/>
<line x1="294.5" y1="487.8" x2="299.5" y2="488.2"/>
<line x1="302.5" y1="488.5" x2="307.5" y2="489.6"/>
<line x1="310.5" y1="490.3" x2="315.5" y2="491.1"/>
<line x1="318.5" y1="491.5" x2="323.5" y2="492.6"/>
<line x1="326.5" y1="493.3" x2="331.5" y2="493.3"/>
<line x1="334.5" y1="493.3" x2="339.5" y2="492.7"/>
<line x1="342.5" y1="492.3" x2="347.5" y2="491.1"/>
<line x1="350.5" y1="490.3" x2="355.5" y2="489.5"/>
<line x1="358.5" y1="489.0" x2="363.5" y2="487.9"/>
<line x1="366.5" y1="487.3" x2="371.5" y2="486.1"/>
<line x1="374.5" y1="485.3" x2="379.5" y2="484.1"/>
<line x1="382.5" y1="483.3" x2="387.5" y2="482.7"/>
<line x1="390.5" y1="482.3" x2="395.5" y2="481.8"/>
<line x1="398.5" y1="481.5" x2="403.5" y2="481.5"/>
<line x1="406.5" y1="481.5" x2="411.5" y2="481.5"/>
<line x1="414.5" y1="481.5" x2="419.5" y2="482.0"/>
<line x1="422.5" y1="482.3" x2="427.5" y2="482.9"/>
<line x1="430.5" y1="483.3" x2="435.5" y2="484.1"/>
<line x1="438.5" y1="484.5" x2="443.5" y2="485.0"/>
<line x1="446.5" y1="485.3" x2="451.5" y2="485.3"/>
<line x1="454.5" y1="485.3" x2="459.5" y2="486.4"/>
<line x1="462.5" y1="487.0" x2="467.5" y2="488.2"/>
<line x1="470.5" y1="489.0" x2="475.5" y2="491.4"/>
<line x1="478.5" y1="492.8" x2="483.5" y2="495.1"/>
<line x1="486.5" y1="496.5" x2="491.5" y2="499.3"/>
<line x1="494.5" y1="501.0" x2="499.5" y2="504.4"/>
<line x1="502.5" y1="506.5" x2="507.5" y2="509.3"/>
<line x1="510.5" y1="511.0" x2="515.5" y2="514.8"/>
<line x1="518.5" y1="517.0" x2="523.5" y2="520.6"/>
<line x1="526.5" y1="522.8" x2="531.5" y2="526.2"/>
<line x1="534.5" y1="528.3" x2="539.5" y2="530.6"/>
<line x1="542.5" y1="532.0" x2="547.5" y2="534.4"/>
<line x1="550.5" y1="535.8" x2="555.5" y2="537.5"/>
<line x1="558.5" y1="538.5" x2="563.5" y2="539.9"/>
<line x1="566.5" y1="540.8" x2="571.5" y2="542.0"/>
<line x1="574.5" y1="542.8" x2="579.5" y2="543.2"/>
<line x1="582.5" y1="543.5" x2="587.5" y2="544.1"/>
<line x1="590.5" y1="544.5" x2="595.5" y2="545.0"/>
<line x1="598.5" y1="545.3" x2="603.5" y2="545.4"/>
<line x1="606.5" y1="545.5" x2="611.5" y2="545.5"/>
<line x1="614.5" y1="545.5" x2="619.5" y2="546.1"/>
<line x1="622.5" y1="546.5" x2="627.5" y2="547.0"/>
<line x1="630.5" y1="547.3" x2="635.5" y2="547.9"/>
<line x1="638.5" y1="548.3" x2="643.5" y2="549.5"/>
<line x1="646.5" y1="550.3" x2="651.5" y2="551.0"/>
<line x1="654.5" y1="551.5" x2="659.5" y2="552.6"/>
<line x1="662.5" y1="553.3" x2="667.5" y2="554.9"/>
<line x1="670.5" y1="555.8" x2="675.5" y2="557.0"/>
<line x1="678.5" y1="557.8" x2="683.5" y2="558.2"/>
<line x1="686.5" y1="558.5" x2="691.5" y2="559.1"/>
<line x1="694.5" y1="559.5" x2="699.5" y2="560.0"/>
<line x1="702.5" y1="560.3" x2="707.5" y2="560.3"/>
<line x1="710.5" y1="560.3" x2="715.5" y2="560.3"/>
<line x1="718.5" y1="560.3" x2="723.5" y2="560.3"/>
<line x1="726.5" y1="560.3" x2="731.5" y2="559.8"/>
<line x1="734.5" y1="559.5" x2="739.5" y2="558.8"/>
<line x1="742.5" y1="558.3" x2="747.5" y2="557.2"/>
<line x1="750.5" y1="556.5" x2="755.5" y2="555.2"/>
<line x1="758.5" y1="554.5" x2="763.5" y2="552.6"/>
<line x1="766.5" y1="551.5" x2="771.5" y2="550.2"/>
<line x1="774.5" y1="549.5" x2="779.5" y2="547.3"/>
<line x1="782.5" y1="546.0" x2="787.5" y2="544.4"/>
<line x1="790.5" y1="543.5" x2="795.5" y2="541.5"/>
<line x1="798.5" y1="540.3" x2="803.5" y2="538.4"/>
<line x1="806.5" y1="537.3" x2="811.5" y2="535.7"/>
<line x1="814.5" y1="534.8" x2="819.5" y2="532.7"/>
<line x1="822.5" y1="531.5" x2="827.5" y2="530.2"/>
<line x1="830.5" y1="529.5" x2="835.5" y2="528.1"/>
<line x1="838.5" y1="527.3" x2="843.5" y2="526.0"/>
<line x1="846.5" y1="525.3" x2="851.5" y2="524.2"/>
<line x1="854.5" y1="523.5" x2="859.5" y2="522.2"/>
<line x1="862.5" y1="521.5" x2="867.5" y2="520.2"/>
<line x1="870.5" y1="519.5" x2="875.5" y2="517.6"/>
<line x1="878.5" y1="516.5" x2="883.5" y2="514.9"/>
<line x1="886.5" y1="514.0" x2="891.5" y2="512.8"/>
<line x1="894.5" y1="512.0" x2="899.5" y2="510.4"/>
<line x1="902.5" y1="509.5" x2="907.5" y2="508.8"/>
<line x1="910.5" y1="508.3" x2="915.5" y2="507.6"/>
<line x1="918.5" y1="507.2" x2="923.5" y2="506.6"/>
<line x1="926.5" y1="506.2" x2="931.5" y2="505.6"/>
<line x1="934.5" y1="505.3" x2="939.5" y2="505.3"/>
<line x1="942.5" y1="505.3" x2="947.5" y2="505.3"/>
<line x1="950.5" y1="505.3" x2="955.5" y2="505.3"/>
<line x1="958.5" y1="505.3" x2="963.5" y2="505.0"/>
<line x1="966.5" y1="504.8" x2="971.5" y2="504.8"/>
<line x1="974.5" y1="504.8" x2="979.5" y2="504.3"/>
<line x1="982.5" y1="504.0" x2="987.5" y2="504.0"/>
<line x1="990.5" y1="504.0" x2="995.5" y2="503.6"/>
<line x1="998.5" y1="503.3" x2="1003.5" y2="503.3"/>
<line x1="1006.5" y1="503.3" x2="1011.5" y2="503.3"/>
<line x1="1014.5" y1="503.3" x2="1019.5" y2="503.3"/>
<line x1="1022.5" y1="503.3" x2="1027.5" y2="503.7"/>
<line x1="1030.5" y1="504.0" x2="1035.5" y2="504.8"/>
<line x1="1038.5" y1="505.3" x2="1043.5" y2="506.1"/>
<line x1="1046.5" y1="506.5" x2="1051.5" y2="507.3"/>
<line x1="1054.5" y1="507.8" x2="1059.5" y2="508.2"/>
<line x1="1062.5" y1="508.5" x2="1067.5" y2="509.6"/>
<line x1="1070.5" y1="510.3" x2="1075.5" y2="511.1"/>
<line x1="1078.5" y1="511.5" x2="1083.5" y2="512.0"/>
<line x1="1086.5" y1="512.3" x2="1091.5" y2="513.4"/>
<line x1="1094.5" y1="514.0" x2="1099.5" y2="514.8"/>
<line x1="1102.5" y1="515.3" x2="1107.5" y2="516.4"/>
<line x1="1110.5" y1="517.0" x2="1115.5" y2="518.2"/>
<line x1="1118.5" y1="519.0" x2="1123.5" y2="520.2"/>
<line x1="1126.5" y1="521.0" x2="1131.5" y2="522.6"/>
<line x1="1134.5" y1="523.5" x2="1139.5" y2="525.1"/>
<line x1="1142.5" y1="526.0" x2="1147.5" y2="527.4"/>
<line x1="1150.5" y1="528.3" x2="1155.5" y2="529.5"/>
<line x1="1158.5" y1="530.3" x2="1163.5" y2="532.3"/>
<line x1="1166.5" y1="533.5" x2="1171.5" y2="534.1"/>
</g>
<text x="1197" y="480.6" fill="#000" stroke="#000" stroke-width="0.22" textLength="27.3" lengthAdjust="spacingAndGlyphs">6.0651</text>
<text x="1197" y="527.6" fill="#000" stroke="#000" stroke-width="0.22" textLength="17.3" lengthAdjust="spacingAndGlyphs">0.00</text>
<text x="1197" y="564.6" fill="#000" stroke="#000" stroke-width="0.22" textLength="31" lengthAdjust="spacingAndGlyphs">-5.0609</text>
<g stroke="#c0c0c0" stroke-width="1" stroke-dasharray="3 3" shape-rendering="crispEdges"><line x1="7" y1="601.5" x2="1193" y2="601.5"/><line x1="7" y1="641.5" x2="1193" y2="641.5"/></g>
<polyline points="6.5,597.8 14.5,609.0 22.5,622.0 30.5,618.3 38.5,616.5 46.5,618.3 54.5,622.8 62.5,627.3 70.5,626.0 78.5,626.0 86.5,613.5 94.5,613.5 102.5,617.3 110.5,615.3 118.5,617.3 126.5,617.3 134.5,616.0 142.5,614.0 150.5,612.0 158.5,606.5 166.5,598.3 174.5,599.5 182.5,595.3 190.5,593.3 198.5,590.3 206.5,595.3 214.5,608.5 222.5,600.3 230.5,603.5 238.5,600.3 246.5,597.3 254.5,605.3 262.5,612.0 270.5,616.0 278.5,614.5 286.5,613.5 294.5,616.5 302.5,614.0 310.5,609.0 318.5,605.3 326.5,607.0 334.5,595.3 342.5,601.0 350.5,600.3 358.5,604.0 366.5,612.3 374.5,612.3 382.5,610.3 390.5,609.5 398.5,608.5 406.5,607.0 414.5,602.0 422.5,609.5 430.5,608.5 438.5,606.5 446.5,610.3 454.5,619.0 462.5,622.8 470.5,633.5 478.5,632.3 486.5,632.3 494.5,631.0 502.5,626.5 510.5,631.0 518.5,635.3 526.5,633.3 534.5,635.3 542.5,630.3 550.5,631.5 558.5,628.3 566.5,628.3 574.5,628.3 582.5,631.0 590.5,632.3 598.5,634.0 606.5,636.5 614.5,640.3 622.5,638.3 630.5,639.0 638.5,642.3 646.5,644.5 654.5,647.3 662.5,643.3 670.5,644.5 678.5,643.3 686.5,638.3 694.5,634.0 702.5,638.3 710.5,636.5 718.5,639.5 726.5,635.3 734.5,633.3 742.5,630.3 750.5,623.5 758.5,616.0 766.5,617.0 774.5,620.8 782.5,614.5 790.5,618.3 798.5,619.5 806.5,620.8 814.5,618.3 822.5,618.3 830.5,614.0 838.5,610.3 846.5,608.5 854.5,608.3 862.5,604.0 870.5,601.0 878.5,598.3 886.5,598.3 894.5,602.8 902.5,609.8 910.5,613.5 918.5,612.5 926.5,611.0 934.5,609.5 942.5,610.3 950.5,606.0 958.5,601.5 966.5,601.0 974.5,601.5 982.5,604.0 990.5,602.3 998.5,602.3 1006.5,615.3 1014.5,618.3 1022.5,615.3 1030.5,614.5 1038.5,621.5 1046.5,623.3 1054.5,613.5 1062.5,614.5 1070.5,615.3 1078.5,622.0 1086.5,623.3 1094.5,626.5 1102.5,632.0 1110.5,632.3 1118.5,641.5 1126.5,638.3 1134.5,636.5 1142.5,630.3 1150.5,636.5 1158.5,638.5 1166.5,629.5 1174.5,628.3" fill="none" stroke="#1e90ff" stroke-width="1" shape-rendering="crispEdges"/>
<text x="1197" y="580.6" fill="#000" stroke="#000" stroke-width="0.22" textLength="14.8" lengthAdjust="spacingAndGlyphs">100</text>
<text x="1196.5" y="604.6" fill="#000" stroke="#000" stroke-width="0.22" textLength="9.8" lengthAdjust="spacingAndGlyphs">70</text>
<text x="1196.5" y="644.6" fill="#000" stroke="#000" stroke-width="0.22" textLength="9.8" lengthAdjust="spacingAndGlyphs">30</text>
<text x="1197" y="668.6" fill="#000" stroke="#000" stroke-width="0.22" textLength="4.9" lengthAdjust="spacingAndGlyphs">0</text>
<path d="M9 13h7l-3.5 4z" fill="#000"/>
<text x="20.5" y="19" fill="#000" stroke="#000" stroke-width="0.22" textLength="43" lengthAdjust="spacingAndGlyphs">USOil-,H4</text>
<text x="70" y="19" fill="#000" stroke="#000" stroke-width="0.22" textLength="31" lengthAdjust="spacingAndGlyphs">104.958</text>
<text x="106" y="19" fill="#000" stroke="#000" stroke-width="0.22" textLength="31" lengthAdjust="spacingAndGlyphs">105.542</text>
<text x="142" y="19" fill="#000" stroke="#000" stroke-width="0.22" textLength="31" lengthAdjust="spacingAndGlyphs">104.627</text>
<text x="178" y="19" fill="#000" stroke="#000" stroke-width="0.22" textLength="31" lengthAdjust="spacingAndGlyphs">105.367</text>
<text x="9.5" y="483" fill="#000" stroke="#000" stroke-width="0.22" textLength="135" lengthAdjust="spacingAndGlyphs">MACD(12,26,9) -1.6596 -1.2114</text>
<text x="9.5" y="583" fill="#000" stroke="#000" stroke-width="0.22" textLength="68.5" lengthAdjust="spacingAndGlyphs">RSI(14) 43.6868</text>
<text x="4.8" y="685" fill="#000" stroke="#000" stroke-width="0.22" textLength="51.8" lengthAdjust="spacingAndGlyphs">24 Feb 2022</text>
<text x="68.8" y="685" fill="#000" stroke="#000" stroke-width="0.22" textLength="55" lengthAdjust="spacingAndGlyphs">25 Feb 16:00</text>
<text x="132.8" y="685" fill="#000" stroke="#000" stroke-width="0.22" textLength="55" lengthAdjust="spacingAndGlyphs">28 Feb 20:00</text>
<text x="196.8" y="685" fill="#000" stroke="#000" stroke-width="0.22" textLength="50" lengthAdjust="spacingAndGlyphs">2 Mar 04:00</text>
<text x="260.8" y="685" fill="#000" stroke="#000" stroke-width="0.22" textLength="50" lengthAdjust="spacingAndGlyphs">3 Mar 12:00</text>
<text x="324.8" y="685" fill="#000" stroke="#000" stroke-width="0.22" textLength="50" lengthAdjust="spacingAndGlyphs">4 Mar 20:00</text>
<text x="388.8" y="685" fill="#000" stroke="#000" stroke-width="0.22" textLength="50" lengthAdjust="spacingAndGlyphs">8 Mar 00:00</text>
<text x="452.8" y="685" fill="#000" stroke="#000" stroke-width="0.22" textLength="50" lengthAdjust="spacingAndGlyphs">9 Mar 08:00</text>
<text x="516.8" y="685" fill="#000" stroke="#000" stroke-width="0.22" textLength="55" lengthAdjust="spacingAndGlyphs">10 Mar 16:00</text>
<text x="580.8" y="685" fill="#000" stroke="#000" stroke-width="0.22" textLength="55" lengthAdjust="spacingAndGlyphs">13 Mar 23:00</text>
<text x="644.8" y="685" fill="#000" stroke="#000" stroke-width="0.22" textLength="55" lengthAdjust="spacingAndGlyphs">15 Mar 04:00</text>
<text x="708.8" y="685" fill="#000" stroke="#000" stroke-width="0.22" textLength="55" lengthAdjust="spacingAndGlyphs">16 Mar 12:00</text>
<text x="772.8" y="685" fill="#000" stroke="#000" stroke-width="0.22" textLength="55" lengthAdjust="spacingAndGlyphs">17 Mar 22:00</text>
<text x="836.8" y="685" fill="#000" stroke="#000" stroke-width="0.22" textLength="55" lengthAdjust="spacingAndGlyphs">21 Mar 00:00</text>
<text x="900.8" y="685" fill="#000" stroke="#000" stroke-width="0.22" textLength="55" lengthAdjust="spacingAndGlyphs">22 Mar 08:00</text>
<text x="964.8" y="685" fill="#000" stroke="#000" stroke-width="0.22" textLength="55" lengthAdjust="spacingAndGlyphs">23 Mar 16:00</text>
<text x="1028.8" y="685" fill="#000" stroke="#000" stroke-width="0.22" textLength="55" lengthAdjust="spacingAndGlyphs">25 Mar 00:00</text>
<text x="1092.8" y="685" fill="#000" stroke="#000" stroke-width="0.22" textLength="55" lengthAdjust="spacingAndGlyphs">28 Mar 04:00</text>
<text x="1156.8" y="685" fill="#000" stroke="#000" stroke-width="0.22" textLength="55" lengthAdjust="spacingAndGlyphs">29 Mar 12:00</text>
<text y="104" font-size="34.3px" font-weight="350" fill="#ff0000"><tspan x="645" y="105.5" font-size="36px" textLength="172" lengthAdjust="spacingAndGlyphs">多空转折点</tspan><tspan x="817.2" y="104.6" font-size="36.8px" textLength="87.5" lengthAdjust="spacingAndGlyphs" font-weight="400" stroke="#fff" stroke-width="0.7">104.5</tspan></text>
</svg></body></html>
